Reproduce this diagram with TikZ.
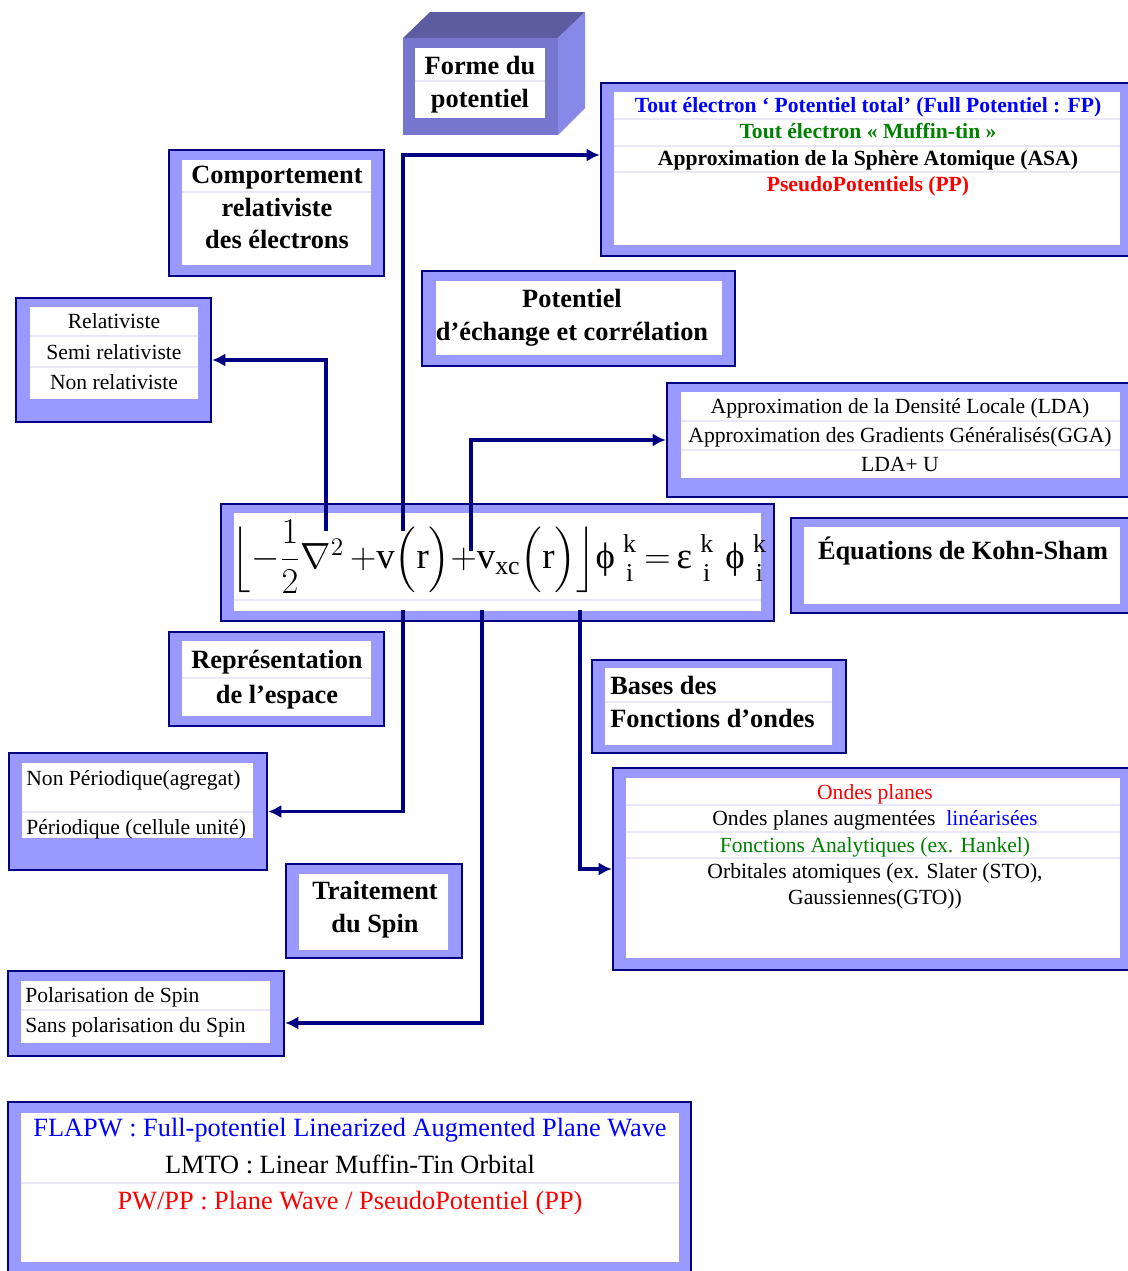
\documentclass[tikz,border=0pt]{standalone}
\usepackage{amsmath}
\usepackage{fontspec}
\setmainfont{Liberation Serif}
\usepackage{tikz}
\usetikzlibrary{arrows.meta,fit}
\definecolor{boxnavy}{RGB}{0,0,128}
\definecolor{boxlilac}{RGB}{153,153,255}
\definecolor{rowline}{RGB}{232,232,250}
\definecolor{cubefront}{RGB}{118,118,206}
\definecolor{cubetop}{RGB}{92,92,160}
\definecolor{cubeside}{RGB}{136,136,232}
\definecolor{txtblue}{RGB}{0,0,255}
\definecolor{txtgreen}{RGB}{0,128,0}
\definecolor{txtred}{RGB}{255,0,0}
\newcommand{\ki}{\genfrac{}{}{0pt}{1}{\mathrm{k}}{\mathrm{i}}}

\begin{document}
\begin{tikzpicture}[x=0.02cm,y=-0.02cm,
 panel/.style={draw=boxnavy,line width=1.3pt,fill=boxlilac,inner sep=0pt},
 pane/.style={fill=white,inner sep=0pt},
 head/.style={font=\bfseries\fontsize{15}{18.5}\selectfont,align=center,inner sep=0pt,anchor=north},
 entry/.style={font=\fontsize{12.3}{17.5}\selectfont,align=center,inner sep=0pt,anchor=north},
 row/.style={draw=rowline,line width=0.6pt},
 arrow/.style={-{Latex[length=7.5pt,width=7.5pt]},line width=2pt,draw=boxnavy}]
 \useasboundingbox (0,0) rectangle (1127,1271);
 % forme du potentiel (cube)
 \fill[cubetop] (403,38) -- (430,12) -- (585,12) -- (558,38) -- cycle;
 \fill[cubeside] (558,38) -- (585,12) -- (585,108) -- (558,135) -- cycle;
 \node[fill=cubefront,inner sep=0pt,fit={(403,38) (558,135)}] (forme) {};
 \node[pane,fit={(415,48) (545,118)}] (formein) {};
 \draw[row] (415,81) -- (545,81);
 \node[head] (formetxt) at (480,56) {Forme du\\potentiel};
 % types de potentiel
 \node[panel,fit={(601,83) (1135,256)}] (fp) {};
 \node[pane,fit={(614,92) (1120,245)}] (fpin) {};
 \draw[row] (614,119) -- (1120,119) (614,146) -- (1120,146) (614,172) -- (1120,172);
 \node[entry,font=\bfseries\fontsize{12.3}{15.1}\selectfont] (fptxt) at (868,97)
  {{\color{txtblue}Tout électron ‘ Potentiel total’ (Full Potentiel : FP)}\\
   {\color{txtgreen}Tout électron « Muffin-tin »}\\
   Approximation de la Sphère Atomique (ASA)\\
   {\color{txtred}PseudoPotentiels (PP)}};
 % comportement relativiste
 \node[panel,fit={(169,150) (384,276)}] (comp) {};
 \node[pane,fit={(182,160) (371,265)}] (compin) {};
 \draw[row] (182,192) -- (371,192);
 \node[head] (comptxt) at (277,166) {Comportement\\relativiste\\des électrons};
 \node[panel,fit={(16,298) (211,422)}] (rel) {};
 \node[pane,fit={(30,307) (198,399)}] (relin) {};
 \draw[row] (30,336) -- (198,336) (30,367) -- (198,367);
 \node[entry] (reltxt) at (114,313) {Relativiste\\Semi relativiste\\Non relativiste};
 % echange et correlation
 \node[panel,fit={(422,271) (735,366)}] (xc) {};
 \node[pane,fit={(436,281) (722,355)}] (xcin) {};
 \node[head] (xctxt) at (572,289) {Potentiel\\d’échange et corrélation};
 \node[panel,fit={(667,383) (1135,497)}] (lda) {};
 \node[pane,fit={(681,392) (1120,478)}] (ldain) {};
 \draw[row] (681,421) -- (1120,421) (681,450) -- (1120,450);
 \node[entry,font=\fontsize{12.3}{16.4}\selectfont] (ldatxt) at (900,398)
  {Approximation de la Densité Locale (LDA)\\
   Approximation des Gradients Généralisés(GGA)\\
   LDA+ U};
 % equation de Kohn-Sham
 \node[panel,fit={(221,504) (774,621)}] (eqbox) {};
 \node[pane,fit={(234,513) (761,611)}] (eqin) {};
 \draw[row] (234,600) -- (761,600);
 \node[inner sep=0pt,font=\fontsize{21}{25}\selectfont] (eqn) at (500,557)
  {$\Bigl\lfloor{-}\dfrac{1}{2}\nabla^{2}\,{+}\mathrm{v}\Bigl(\mathrm{r}\Bigr){+}\mathrm{v}_{\mathrm{xc}}\Bigl(\mathrm{r}\Bigr)\Bigr\rfloor
    \textrm{ϕ}\,\ki\,{=}\,\textrm{ε}\,\ki\;\textrm{ϕ}\,\ki$};
 \node[panel,fit={(791,518) (1135,613)}] (ks) {};
 \node[pane,fit={(804,527) (1120,604)}] (ksin) {};
 \node[head] (kstxt) at (963,537) {Équations de Kohn-Sham};
 % representation de l'espace
 \node[panel,fit={(169,632) (384,726)}] (rep) {};
 \node[pane,fit={(182,641) (371,716)}] (repin) {};
 \draw[row] (182,678) -- (371,678);
 \node[head,font=\bfseries\fontsize{15}{20}\selectfont] (reptxt) at (277,650) {Représentation\\de l’espace};
 \node[panel,fit={(9,753) (267,870)}] (np) {};
 \node[pane,fit={(22,763) (253,838)}] (npin) {};
 \draw[row] (22,812) -- (253,812);
 \node[entry,align=left,anchor=north west,font=\fontsize{12.3}{27.8}\selectfont] (nptxt) at (26,770)
  {Non Périodique(agregat)\\Périodique (cellule unité)};
 % bases des fonctions d'ondes
 \node[panel,fit={(592,660) (846,753)}] (bases) {};
 \node[pane,fit={(605,668) (832,745)}] (basesin) {};
 \draw[row] (605,702) -- (832,702);
 \node[head,align=left,anchor=north west] (basestxt) at (610,676) {Bases des\\Fonctions d’ondes};
 \node[panel,fit={(613,768) (1135,970)}] (ond) {};
 \node[pane,fit={(626,778) (1120,958)}] (ondin) {};
 \draw[row] (626,805) -- (1120,805) (626,832) -- (1120,832) (626,858) -- (1120,858);
 \node[entry,font=\fontsize{12.3}{15}\selectfont] (ondtxt) at (875,784)
  {{\color{txtred}Ondes planes}\\
   Ondes planes augmentées\ \ {\color{txtblue}linéarisées}\\
   {\color{txtgreen}Fonctions Analytiques (ex. Hankel)}\\
   Orbitales atomiques (ex. Slater (STO),\\
   Gaussiennes(GTO))};
 % traitement du spin
 \node[panel,fit={(286,864) (462,958)}] (spin) {};
 \node[pane,fit={(299,874) (448,950)}] (spinin) {};
 \node[head] (spintxt) at (375,881) {Traitement\\du Spin};
 \node[panel,fit={(8,971) (284,1056)}] (pol) {};
 \node[pane,fit={(21,981) (270,1043)}] (polin) {};
 \draw[row] (21,1010) -- (270,1010);
 \node[entry,align=left,anchor=north west,font=\fontsize{12.3}{17}\selectfont] (poltxt) at (25,987)
  {Polarisation de Spin\\Sans polarisation du Spin};
 % methodes
 \node[panel,fit={(8,1102) (691,1280)}] (flapw) {};
 \node[pane,fit={(21,1113) (679,1262)}] (flapwin) {};
 \draw[row] (21,1183) -- (679,1183);
 \node[entry,font=\fontsize{15}{20.7}\selectfont] (flapwtxt) at (350,1118)
  {{\color{txtblue}FLAPW : Full-potentiel Linearized Augmented Plane Wave}\\
   LMTO : Linear Muffin-Tin Orbital\\
   {\color{txtred}PW/PP : Plane Wave / PseudoPotentiel (PP)}};
 % liaisons
 \coordinate (up1) at (326,531);
 \coordinate (up2) at (403,531);
 \coordinate (up3) at (471,551);
 \coordinate (dn1) at (403,610);
 \coordinate (dn2) at (482,610);
 \coordinate (dn3) at (580,610);
 \draw[arrow] (up1) |- (rel.east);
 \draw[arrow] (up2) |- ([yshift=0.29cm]fp.west);
 \draw[arrow] (up3) |- (lda.west);
 \draw[arrow] (dn1) |- (np.east);
 \draw[arrow] (dn2) |- ([yshift=-0.19cm]pol.east);
 \draw[arrow] (dn3) |- (ond.west);
\end{tikzpicture}
\end{document}
